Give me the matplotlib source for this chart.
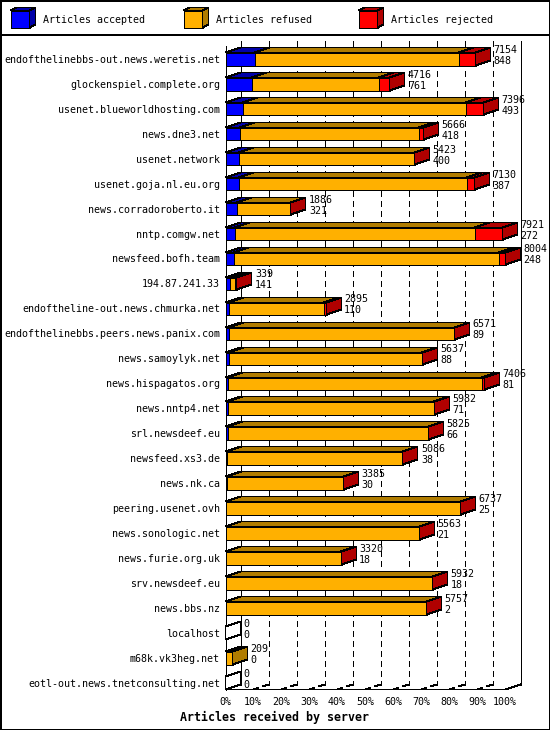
import matplotlib
matplotlib.use("Agg")
import matplotlib.pyplot as plt
from matplotlib.patches import Polygon
from matplotlib.lines import Line2D
from matplotlib.transforms import IdentityTransform
import numpy as np

servers = [
    "endofthelinebbs-out.news.weretis.net", "glockenspiel.complete.org",
    "usenet.blueworldhosting.com", "news.dne3.net", "usenet.network",
    "usenet.goja.nl.eu.org", "news.corradoroberto.it", "nntp.comgw.net",
    "newsfeed.bofh.team", "194.87.241.33", "endoftheline-out.news.chmurka.net",
    "endofthelinebbs.peers.news.panix.com", "news.samoylyk.net",
    "news.hispagatos.org", "news.nntp4.net", "srl.newsdeef.eu",
    "newsfeed.xs3.de", "news.nk.ca", "peering.usenet.ovh", "news.sonologic.net",
    "news.furie.org.uk", "srv.newsdeef.eu", "news.bbs.nz", "localhost",
    "m68k.vk3heg.net", "eotl-out.news.tnetconsulting.net",
]
offered = [7154, 4716, 7396, 5666, 5423, 7130, 1886, 7921, 8004, 339, 2895,
           6571, 5637, 7406, 5982, 5825, 5086, 3385, 6737, 5563, 3320, 5932,
           5757, 0, 209, 0]
accepted = [848, 761, 493, 418, 400, 387, 321, 272, 248, 141, 110,
            89, 88, 81, 71, 66, 38, 30, 25, 21, 18, 18, 2, 0, 0, 0]
refused = [5816, 3640, 6378, 5103, 5013, 6503, 1560, 6864, 7556, 120, 2705,
           6467, 5539, 7240, 5896, 5749, 5038, 3347, 6702, 5532, 3294, 5904,
           5745, 0, 209, 0]
rejected = [490, 315, 525, 145, 10, 240, 5, 785, 200, 78, 80,
            15, 10, 85, 15, 10, 10, 8, 10, 10, 8, 10, 10, 0, 0, 0]

legend_names = ["Articles accepted", "Articles refused", "Articles rejected"]
colors = ["#0000ff", "#ffb000", "#ff0000"]
darks = ["#0000a8", "#b07c00", "#b00000"]
xtick_vals = list(range(0, 101, 10))

W, H = 550, 730
LW = 0.72  # one pixel at 100 dpi
plt.rcParams['font.family'] = ['DejaVu Sans Mono']
plt.rcParams['lines.scale_dashes'] = False
DASH = (0, (4.3, 2.9))

fig = plt.figure(figsize=(W / 100, H / 100), dpi=100)
ax = fig.add_axes([225 / W, (H - 690) / H, 280 / W, 655 / H])

n = len(servers)
row_px = 24.96
ax.set_xlim(0, 100)
ax.set_ylim((690 - 58.8) / row_px, -(58.8 - 35) / row_px)
ax.set_yticks(range(n))
ax.set_yticklabels(servers, fontsize=7.2)
ax.set_xticks(xtick_vals)
ax.set_xticklabels([f"{v}%" for v in xtick_vals], fontsize=7.2)
ax.tick_params(axis='y', length=0, pad=3.6)
ax.tick_params(axis='x', length=0, pad=5)
for s in ax.spines.values():
    s.set_visible(False)
ax.patch.set_visible(False)

D = np.array([15.0, 5.0])
top_i = -0.55
bot_i = ax.get_ylim()[0]


def px(x, y):
    return ax.transData.transform((x, y))


def snap(pts):
    # put vertices on pixel centres for crisp 1px outlines
    return np.floor(np.array(pts, dtype=float)) + 0.5


def poly(pts, fc, z=3):
    p = Polygon(snap(pts), closed=True, facecolor=fc, edgecolor="black", lw=LW,
                transform=IdentityTransform(), zorder=z, clip_on=False,
                antialiased=False)
    ax.add_patch(p)


def line(pts, z=1, ls="-"):
    pts = snap(pts)
    ax.add_line(Line2D(pts[:, 0], pts[:, 1], color="black", lw=LW, ls=ls,
                       transform=IdentityTransform(), zorder=z, clip_on=False,
                       antialiased=False))


# frame of the 3D chart
line([px(0, top_i), px(0, bot_i)])
line([px(0, top_i) + D, px(0, bot_i) + D])
line([px(100, top_i) + D, px(100, bot_i) + D])
line([px(0, bot_i), px(100, bot_i), px(100, bot_i) + D])
for v in xtick_vals[1:-1]:
    line([px(v, top_i) + D, px(v, bot_i) + D], ls=DASH)
    line([px(v, bot_i), px(v, bot_i) + D], ls=DASH)

# bars
vmax = max(offered)
half = 0.25
for i in range(n):
    segs = [accepted[i], refused[i], rejected[i]]
    x0 = 0.0
    last = None
    for k, v in enumerate(segs):
        if v <= 0:
            continue
        x1 = x0 + v / vmax * 100
        a, b = px(x0, i - half), px(x1, i - half)
        c, d = px(x1, i + half), px(x0, i + half)
        poly([a, b, c, d], colors[k])
        poly([a, b, b + D, a + D], darks[k])
        last = (x1, k)
        x0 = x1
    if last is None:
        a, d = px(0, i - half), px(0, i + half)
        poly([a, a + D, d + D, d], "white")
    else:
        x1, k = last
        b, c = px(x1, i - half), px(x1, i + half)
        poly([b, b + D, c + D, c], darks[k])
    xe = offered[i] / vmax * 100
    ax.annotate(str(offered[i]), xy=(xe, i), xytext=(18, 9),
                textcoords="offset pixels", va="center", ha="left", fontsize=7.2)
    ax.annotate(str(accepted[i]), xy=(xe, i), xytext=(18, -2),
                textcoords="offset pixels", va="center", ha="left", fontsize=7.2)


# legend and border, figure pixel coordinates (top-left origin)
def fpx(x, y):
    return np.array([x, H - y])


def fig_poly(pts, fc):
    fig.add_artist(Polygon(snap([fpx(*p) for p in pts]), closed=True, facecolor=fc,
                           edgecolor="black", lw=LW, transform=IdentityTransform(),
                           antialiased=False))


leg_x = [10, 183, 358]
for k, name in enumerate(legend_names):
    x, y, w, h, dx, dy = leg_x[k], 11, 19, 17, 6, 3
    fig_poly([(x, y), (x + w, y), (x + w, y + h), (x, y + h)], colors[k])
    fig_poly([(x, y), (x + w, y), (x + w + dx, y - dy), (x + dx, y - dy)], darks[k])
    fig_poly([(x + w, y), (x + w + dx, y - dy), (x + w + dx, y + h - dy), (x + w, y + h)], darks[k])
    fig.text((x + 33) / W, 1 - 20 / H, name, fontsize=7.2, va="center", ha="left")

fig.add_artist(Line2D([0.5, 549.5, 549.5, 0.5, 0.5], [H - 0.5, H - 0.5, 0.5, 0.5, H - 0.5],
                      color="black", lw=LW * 1.5, transform=IdentityTransform(),
                      antialiased=False))
fig.add_artist(Line2D([0, W], [H - 34.5, H - 34.5], color="black", lw=LW * 1.5,
                      transform=IdentityTransform(), antialiased=False))

fig.text(274 / W, 1 - 717 / H, "Articles received by server", fontsize=8.4,
         fontweight="bold", ha="center", va="center")

fig.savefig("out.png", dpi=100)
